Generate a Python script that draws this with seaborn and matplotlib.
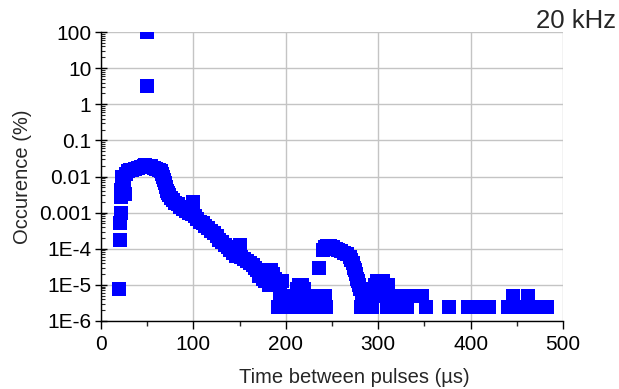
import matplotlib
matplotlib.use("Agg")
import matplotlib.pyplot as plt
import matplotlib.ticker as mticker
import numpy as np
import pandas as pd
import seaborn as sns

# ---- data ----
time_us = [
    19.5, 20.5, 21, 21.5, 22, 22, 22.5, 23, 24, 25, 25.5, 27, 29, 31, 34, 37, 40, 43, 46, 48,
    50, 50, 51, 54, 57, 60, 63, 65, 66, 67, 68, 69, 70, 71, 72, 74, 76, 78, 80, 83, 86, 89,
    92, 95, 98, 100, 100, 102, 104, 107, 110, 113, 116, 119, 122, 125, 128, 131, 134, 137,
    140, 143, 146, 150, 150, 152, 155, 158, 161, 164, 167, 169, 171, 173, 175, 177, 180,
    182, 184, 186, 188, 190, 192, 194, 196, 197, 199, 201,
    192, 194, 196, 198, 200, 202, 204, 206, 208, 210, 212, 214, 216, 218, 220, 222, 224,
    226, 228, 230, 232, 234, 236, 238, 240, 242, 244,
    236, 240, 242, 245, 248, 251, 254, 257, 260, 263, 266, 269, 271, 273, 274, 275, 276,
    277, 278, 279, 280,
    281, 283, 285, 287, 289, 291, 293, 295, 297, 299, 301, 303, 305, 307, 309, 311, 313,
    315, 317, 319, 321, 323, 325, 327, 329, 331, 333,
    347, 352, 377, 397, 410, 420, 440, 446, 450, 455, 462, 466, 472, 478, 483,
]
occurrence_pct = [
    7.5e-6, 1.75e-4, 5e-4, 1e-3, 2.7e-3, 4.2e-3, 7e-3, 1e-2, 8e-3, 5e-3, 3.3e-3, 1.2e-2,
    1.4e-2, 1.5e-2, 1.55e-2, 1.6e-2, 1.7e-2, 1.8e-2, 2.0e-2, 2.1e-2,
    3.3, 100, 2.0e-2, 1.9e-2, 1.7e-2, 1.6e-2, 1.5e-2, 1.4e-2, 1.2e-2, 1.0e-2, 8e-3, 6.5e-3,
    5e-3, 4e-3, 3.5e-3, 3e-3, 2.6e-3, 2.2e-3, 1.9e-3, 1.7e-3, 1.45e-3, 1.25e-3,
    1.1e-3, 1.0e-3, 9e-4, 2.0e-3, 1.4e-3, 8e-4, 6.5e-4, 5.6e-4, 5e-4, 4.3e-4, 3.8e-4, 3.2e-4,
    2.7e-4, 2.2e-4, 1.8e-4, 1.5e-4, 1.3e-4, 1.1e-4,
    9e-5, 7.6e-5, 6.5e-5, 1.3e-4, 1.0e-4, 6e-5, 5.2e-5, 4.5e-5, 4e-5, 3.5e-5, 3e-5, 2.5e-5,
    1.75e-5, 2e-5, 1.5e-5, 1.25e-5, 1.25e-5,
    1e-5, 2.5e-5, 2e-5, 1.5e-5, 1.25e-5, 1e-5, 7.5e-6, 1.25e-5, 5e-6, 2.5e-6, 5e-6,
    2.5e-6, 5e-6, 2.5e-6, 5e-6, 2.5e-6, 5e-6, 2.5e-6, 5e-6, 2.5e-6, 2.5e-6, 7.5e-6, 1e-5,
    5e-6, 1e-5, 7.5e-6, 2.5e-6, 5e-6,
    2.5e-6, 5e-6, 2.5e-6, 5e-6, 2.5e-6, 2.5e-6, 5e-6, 2.5e-6, 5e-6, 2.5e-6,
    3e-5, 9e-5, 1.1e-4, 1.2e-4, 1.2e-4, 1.1e-4, 1.0e-4, 9e-5, 8.5e-5, 7.5e-5, 7e-5, 6e-5,
    5e-5, 4e-5, 3e-5, 2.5e-5, 2e-5,
    1.5e-5, 1.25e-5, 1e-5, 7.5e-6,
    2.5e-6, 5e-6, 2.5e-6, 5e-6, 2.5e-6, 5e-6, 2.5e-6, 7.5e-6, 1e-5, 1.25e-5, 5e-6, 1.25e-5,
    1.25e-5, 1e-5, 2.5e-6, 1e-5, 5e-6,
    2.5e-6, 5e-6, 2.5e-6, 5e-6, 2.5e-6, 5e-6, 2.5e-6, 5e-6, 2.5e-6, 5e-6,
    5e-6, 2.5e-6, 2.5e-6, 2.5e-6, 2.5e-6, 2.5e-6, 2.5e-6, 5e-6, 2.5e-6, 2.5e-6, 5e-6,
    2.5e-6, 2.5e-6, 2.5e-6, 2.5e-6,
]

x_ticks = [0, 100, 200, 300, 400, 500]
y_ticks = [1e-6, 1e-5, 1e-4, 1e-3, 1e-2, 1e-1, 1, 10, 100]
y_tick_labels = ["1E-6", "1E-5", "1E-4", "0.001", "0.01", "0.1", "1", "10", "100"]

df = pd.DataFrame({"t": time_us, "occ": occurrence_pct})

sns.set_style("white")
plt.rcParams["font.family"] = ["Liberation Sans", "DejaVu Sans"]

fig = plt.figure(figsize=(6.19, 3.89), dpi=100)
ax = fig.add_axes([101 / 619, 1 - 321 / 389, (563 - 101) / 619, (321 - 32) / 389])

sns.scatterplot(data=df, x="t", y="occ", marker="s", s=100, color="#0000FF",
                linewidth=0, ax=ax, zorder=3, legend=False)

ax.set_yscale("log")
ax.set_xlim(0, 500)
ax.set_ylim(1e-6, 100)

ax.set_xticks(x_ticks)
ax.xaxis.set_minor_locator(mticker.MultipleLocator(50))
ax.set_yticks(y_ticks)
ax.set_yticklabels(y_tick_labels)
ax.yaxis.set_minor_locator(mticker.LogLocator(base=10, subs=np.arange(2, 10), numticks=20))
ax.yaxis.set_minor_formatter(mticker.NullFormatter())

ax.grid(True, which="major", color="#c4c4c4", linewidth=1.0, zorder=0)
ax.set_axisbelow(True)

for s in ["top", "right"]:
    ax.spines[s].set_visible(False)
for s in ["left", "bottom"]:
    ax.spines[s].set_color("black")
    ax.spines[s].set_linewidth(1.0)

ax.tick_params(axis="x", which="major", direction="out", length=6, width=1,
               labelsize=15, colors="black", bottom=True, pad=4)
ax.tick_params(axis="x", which="minor", direction="out", length=3.5, width=1, bottom=True)
ax.tick_params(axis="y", which="major", direction="inout", length=8, width=1,
               labelsize=15, colors="black", left=True, pad=3)
ax.tick_params(axis="y", which="minor", direction="in", length=3, width=0.8, left=True)

ax.set_xlabel("Time between pulses (µs)", fontsize=14.5)
ax.xaxis.set_label_coords(0.548, -0.197)
ax.xaxis.label.set_va("center")
ax.set_ylabel("Occurence (%)", fontsize=14.5, labelpad=5)

fig.text(0.995, 0.945, "20 kHz", ha="right", va="center", fontsize=18.5)

fig.savefig("out.png", dpi=100)
